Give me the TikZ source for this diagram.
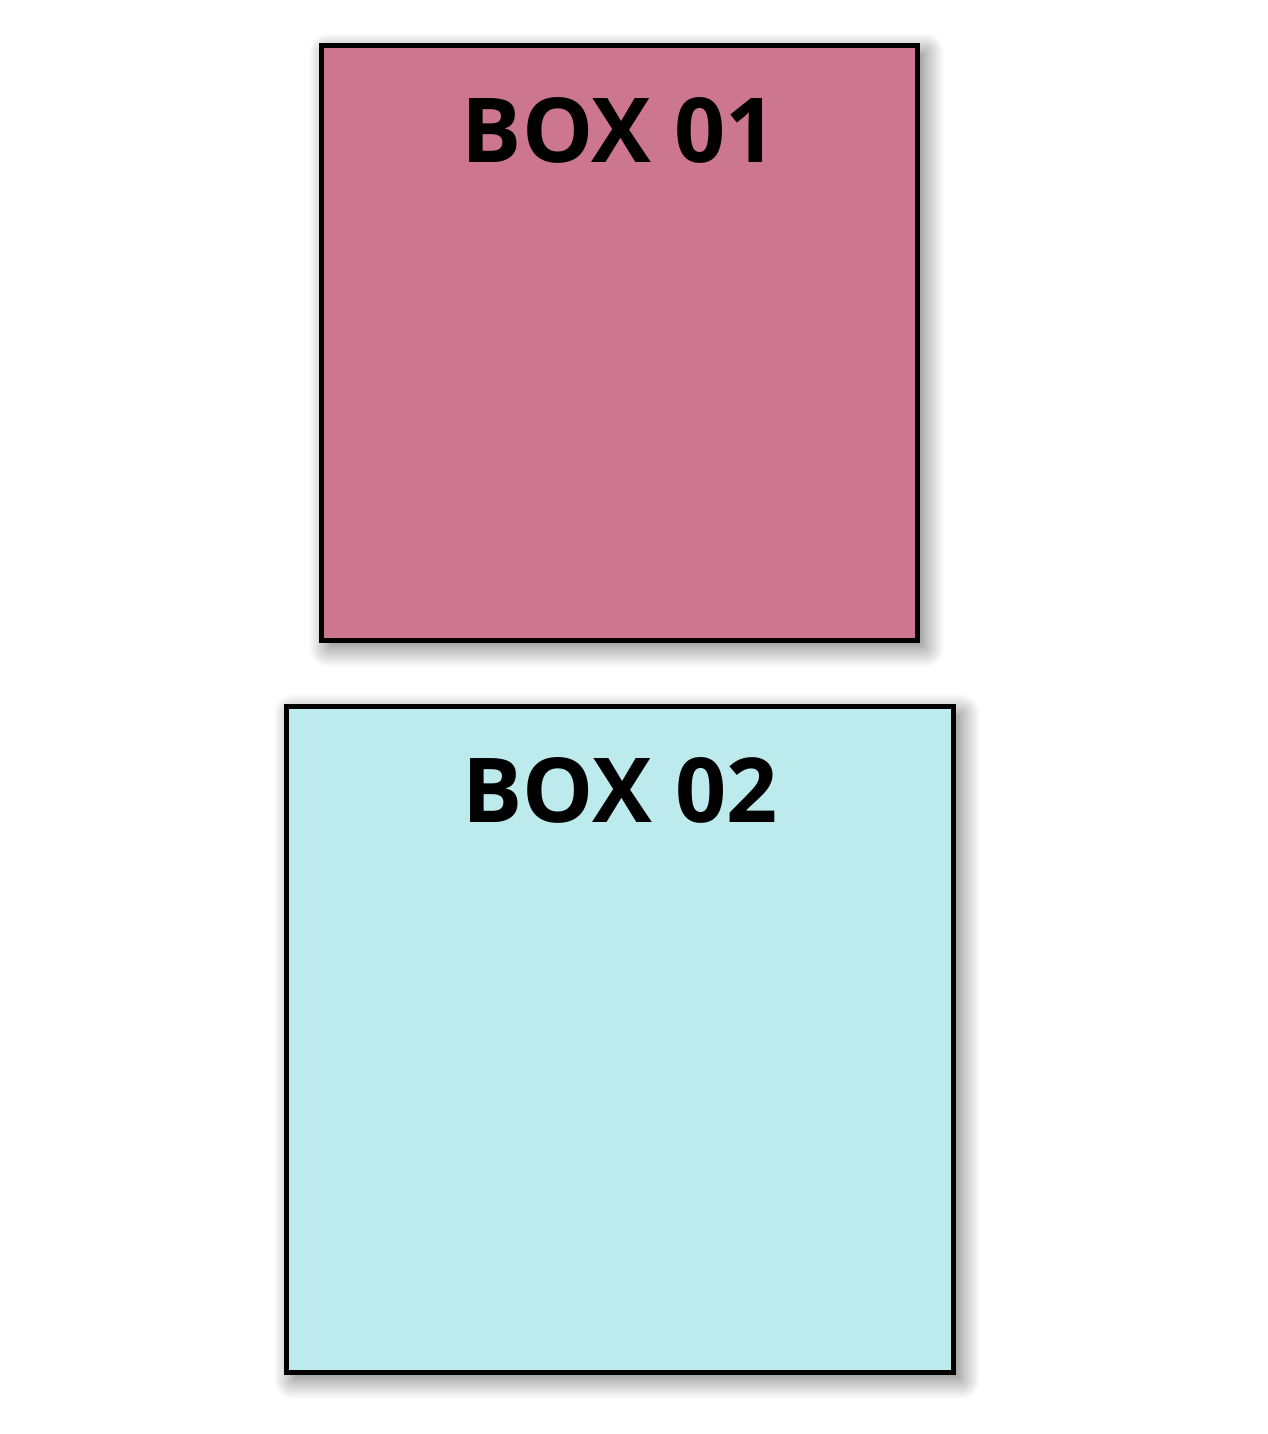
\documentclass[tikz,border=0pt]{standalone}
\usepackage{fontspec}
\setmainfont{Open Sans}
\usetikzlibrary{shadows.blur}
\definecolor{boxpink}{HTML}{CC7690}
\definecolor{boxcyan}{HTML}{BDEBED}
\tikzset{
    box/.style={draw=black, line width=2.9pt, rectangle, inner sep=0pt,
        blur shadow={shadow xshift=4pt, shadow yshift=-4pt, shadow blur radius=11pt,
            shadow blur steps=20, shadow opacity=55}},
    boxtitle/.style={font=\fontsize{51}{60}\selectfont\bfseries, inner sep=0pt}
}
\begin{document}
\begin{tikzpicture}[x=0.02cm, y=-0.02cm]
        \useasboundingbox (0, 0) rectangle (1268, 1434);
        \node[box, fill=boxpink, minimum width=11.94cm, minimum height=11.92cm] (box1) at (619.5, 343) {};
        \node[box, fill=boxcyan, minimum width=13.36cm, minimum height=13.34cm] (box2) at (620, 1039.5) {};

        \node[boxtitle, anchor=base] (title1) at (619.5, 162) {BOX 01};
        \node[boxtitle, anchor=base] (title2) at (620, 822) {BOX 02};
    \end{tikzpicture}
\end{document}
